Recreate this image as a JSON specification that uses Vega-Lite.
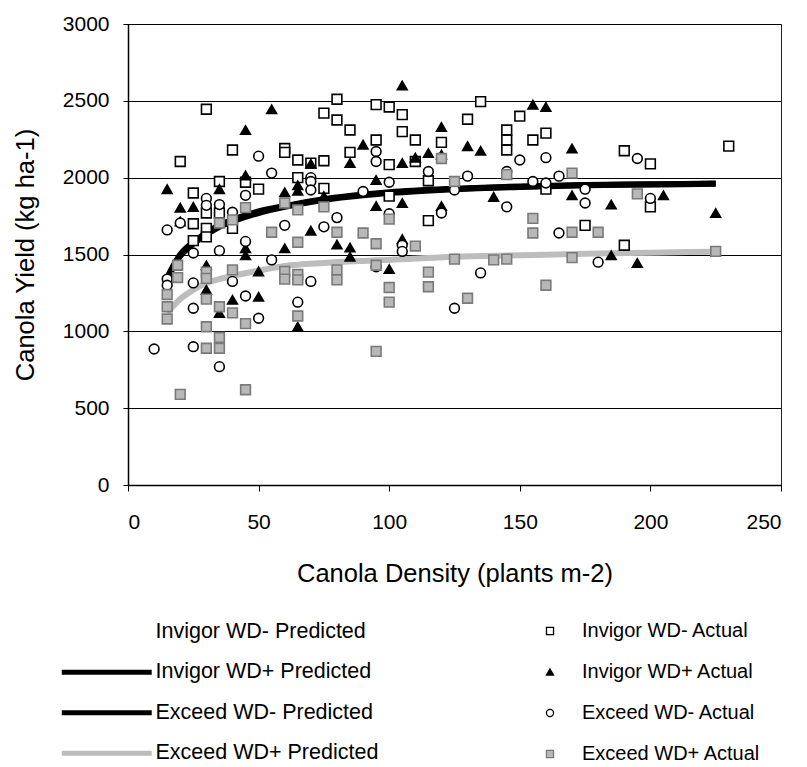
{
  "$schema": "https://vega.github.io/schema/vega-lite/v6.json",
  "width": 653,
  "height": 461,
  "autosize": {"type": "pad"},
  "padding": {"left": 13, "top": 13, "right": 0, "bottom": 0},
  "background": "white",
  "config": {
    "font": "Liberation Sans",
    "view": {"stroke": "#222", "strokeWidth": 1},
    "axis": {
      "labelFont": "Liberation Sans", "labelFontSize": 21, "labelColor": "black",
      "titleFont": "Liberation Sans", "titleFontSize": 25.5, "titleFontWeight": "normal", "titleColor": "black",
      "domainColor": "black", "tickColor": "black", "gridColor": "black", "gridOpacity": 1
    },
    "legend": {
      "labelFont": "Liberation Sans", "labelFontSize": 21, "labelColor": "black", "padding": 0, "labelLimit": 0
    }
  },
  "datasets": {
    "curves": [
      {"density": 15, "yield": 1350, "Line": "Invigor WD+ Predicted"},
      {"density": 20, "yield": 1500, "Line": "Invigor WD+ Predicted"},
      {"density": 25, "yield": 1580, "Line": "Invigor WD+ Predicted"},
      {"density": 30, "yield": 1640, "Line": "Invigor WD+ Predicted"},
      {"density": 35, "yield": 1690, "Line": "Invigor WD+ Predicted"},
      {"density": 40, "yield": 1725, "Line": "Invigor WD+ Predicted"},
      {"density": 50, "yield": 1780, "Line": "Invigor WD+ Predicted"},
      {"density": 60, "yield": 1815, "Line": "Invigor WD+ Predicted"},
      {"density": 75, "yield": 1860, "Line": "Invigor WD+ Predicted"},
      {"density": 90, "yield": 1890, "Line": "Invigor WD+ Predicted"},
      {"density": 100, "yield": 1905, "Line": "Invigor WD+ Predicted"},
      {"density": 125, "yield": 1928, "Line": "Invigor WD+ Predicted"},
      {"density": 150, "yield": 1943, "Line": "Invigor WD+ Predicted"},
      {"density": 175, "yield": 1952, "Line": "Invigor WD+ Predicted"},
      {"density": 200, "yield": 1957, "Line": "Invigor WD+ Predicted"},
      {"density": 225, "yield": 1962, "Line": "Invigor WD+ Predicted"},
      {"density": 15, "yield": 1340, "Line": "Exceed WD- Predicted"},
      {"density": 20, "yield": 1490, "Line": "Exceed WD- Predicted"},
      {"density": 25, "yield": 1570, "Line": "Exceed WD- Predicted"},
      {"density": 30, "yield": 1630, "Line": "Exceed WD- Predicted"},
      {"density": 35, "yield": 1680, "Line": "Exceed WD- Predicted"},
      {"density": 40, "yield": 1715, "Line": "Exceed WD- Predicted"},
      {"density": 50, "yield": 1770, "Line": "Exceed WD- Predicted"},
      {"density": 60, "yield": 1810, "Line": "Exceed WD- Predicted"},
      {"density": 75, "yield": 1855, "Line": "Exceed WD- Predicted"},
      {"density": 90, "yield": 1885, "Line": "Exceed WD- Predicted"},
      {"density": 100, "yield": 1900, "Line": "Exceed WD- Predicted"},
      {"density": 125, "yield": 1925, "Line": "Exceed WD- Predicted"},
      {"density": 150, "yield": 1940, "Line": "Exceed WD- Predicted"},
      {"density": 175, "yield": 1950, "Line": "Exceed WD- Predicted"},
      {"density": 200, "yield": 1955, "Line": "Exceed WD- Predicted"},
      {"density": 225, "yield": 1960, "Line": "Exceed WD- Predicted"},
      {"density": 15, "yield": 1120, "Line": "Exceed WD+ Predicted"},
      {"density": 20, "yield": 1210, "Line": "Exceed WD+ Predicted"},
      {"density": 25, "yield": 1270, "Line": "Exceed WD+ Predicted"},
      {"density": 30, "yield": 1315, "Line": "Exceed WD+ Predicted"},
      {"density": 35, "yield": 1340, "Line": "Exceed WD+ Predicted"},
      {"density": 40, "yield": 1360, "Line": "Exceed WD+ Predicted"},
      {"density": 50, "yield": 1395, "Line": "Exceed WD+ Predicted"},
      {"density": 60, "yield": 1425, "Line": "Exceed WD+ Predicted"},
      {"density": 75, "yield": 1445, "Line": "Exceed WD+ Predicted"},
      {"density": 90, "yield": 1458, "Line": "Exceed WD+ Predicted"},
      {"density": 100, "yield": 1465, "Line": "Exceed WD+ Predicted"},
      {"density": 125, "yield": 1485, "Line": "Exceed WD+ Predicted"},
      {"density": 150, "yield": 1495, "Line": "Exceed WD+ Predicted"},
      {"density": 175, "yield": 1505, "Line": "Exceed WD+ Predicted"},
      {"density": 200, "yield": 1512, "Line": "Exceed WD+ Predicted"},
      {"density": 225, "yield": 1518, "Line": "Exceed WD+ Predicted"}
    ],
    "obs": [
      {"density": 20, "yield": 2105, "Series": "Invigor WD- Actual"},
      {"density": 30, "yield": 2445, "Series": "Invigor WD- Actual"},
      {"density": 40, "yield": 2180, "Series": "Invigor WD- Actual"},
      {"density": 35, "yield": 1975, "Series": "Invigor WD- Actual"},
      {"density": 25, "yield": 1900, "Series": "Invigor WD- Actual"},
      {"density": 50, "yield": 1925, "Series": "Invigor WD- Actual"},
      {"density": 45, "yield": 1970, "Series": "Invigor WD- Actual"},
      {"density": 30, "yield": 1770, "Series": "Invigor WD- Actual"},
      {"density": 35, "yield": 1770, "Series": "Invigor WD- Actual"},
      {"density": 25, "yield": 1700, "Series": "Invigor WD- Actual"},
      {"density": 30, "yield": 1670, "Series": "Invigor WD- Actual"},
      {"density": 25, "yield": 1590, "Series": "Invigor WD- Actual"},
      {"density": 30, "yield": 1615, "Series": "Invigor WD- Actual"},
      {"density": 40, "yield": 1670, "Series": "Invigor WD- Actual"},
      {"density": 60, "yield": 2190, "Series": "Invigor WD- Actual"},
      {"density": 60, "yield": 2165, "Series": "Invigor WD- Actual"},
      {"density": 65, "yield": 2115, "Series": "Invigor WD- Actual"},
      {"density": 70, "yield": 2095, "Series": "Invigor WD- Actual"},
      {"density": 75, "yield": 2110, "Series": "Invigor WD- Actual"},
      {"density": 65, "yield": 2000, "Series": "Invigor WD- Actual"},
      {"density": 75, "yield": 1930, "Series": "Invigor WD- Actual"},
      {"density": 75, "yield": 2420, "Series": "Invigor WD- Actual"},
      {"density": 80, "yield": 2510, "Series": "Invigor WD- Actual"},
      {"density": 80, "yield": 2375, "Series": "Invigor WD- Actual"},
      {"density": 85, "yield": 2310, "Series": "Invigor WD- Actual"},
      {"density": 85, "yield": 2165, "Series": "Invigor WD- Actual"},
      {"density": 95, "yield": 2245, "Series": "Invigor WD- Actual"},
      {"density": 95, "yield": 2475, "Series": "Invigor WD- Actual"},
      {"density": 100, "yield": 2460, "Series": "Invigor WD- Actual"},
      {"density": 100, "yield": 2085, "Series": "Invigor WD- Actual"},
      {"density": 100, "yield": 1880, "Series": "Invigor WD- Actual"},
      {"density": 105, "yield": 2410, "Series": "Invigor WD- Actual"},
      {"density": 105, "yield": 2300, "Series": "Invigor WD- Actual"},
      {"density": 110, "yield": 2245, "Series": "Invigor WD- Actual"},
      {"density": 110, "yield": 2105, "Series": "Invigor WD- Actual"},
      {"density": 115, "yield": 1980, "Series": "Invigor WD- Actual"},
      {"density": 115, "yield": 1720, "Series": "Invigor WD- Actual"},
      {"density": 120, "yield": 2230, "Series": "Invigor WD- Actual"},
      {"density": 130, "yield": 2380, "Series": "Invigor WD- Actual"},
      {"density": 135, "yield": 2495, "Series": "Invigor WD- Actual"},
      {"density": 145, "yield": 2310, "Series": "Invigor WD- Actual"},
      {"density": 145, "yield": 2245, "Series": "Invigor WD- Actual"},
      {"density": 145, "yield": 2180, "Series": "Invigor WD- Actual"},
      {"density": 150, "yield": 2400, "Series": "Invigor WD- Actual"},
      {"density": 155, "yield": 2245, "Series": "Invigor WD- Actual"},
      {"density": 160, "yield": 2290, "Series": "Invigor WD- Actual"},
      {"density": 160, "yield": 1925, "Series": "Invigor WD- Actual"},
      {"density": 175, "yield": 1690, "Series": "Invigor WD- Actual"},
      {"density": 190, "yield": 2175, "Series": "Invigor WD- Actual"},
      {"density": 190, "yield": 1560, "Series": "Invigor WD- Actual"},
      {"density": 200, "yield": 2090, "Series": "Invigor WD- Actual"},
      {"density": 200, "yield": 1810, "Series": "Invigor WD- Actual"},
      {"density": 230, "yield": 2205, "Series": "Invigor WD- Actual"},

      {"density": 15, "yield": 1925, "Series": "Invigor WD+ Actual"},
      {"density": 20, "yield": 1805, "Series": "Invigor WD+ Actual"},
      {"density": 25, "yield": 1810, "Series": "Invigor WD+ Actual"},
      {"density": 20, "yield": 1715, "Series": "Invigor WD+ Actual"},
      {"density": 35, "yield": 1925, "Series": "Invigor WD+ Actual"},
      {"density": 45, "yield": 2310, "Series": "Invigor WD+ Actual"},
      {"density": 45, "yield": 2015, "Series": "Invigor WD+ Actual"},
      {"density": 45, "yield": 1540, "Series": "Invigor WD+ Actual"},
      {"density": 45, "yield": 1495, "Series": "Invigor WD+ Actual"},
      {"density": 30, "yield": 1430, "Series": "Invigor WD+ Actual"},
      {"density": 30, "yield": 1270, "Series": "Invigor WD+ Actual"},
      {"density": 40, "yield": 1205, "Series": "Invigor WD+ Actual"},
      {"density": 35, "yield": 1120, "Series": "Invigor WD+ Actual"},
      {"density": 50, "yield": 1390, "Series": "Invigor WD+ Actual"},
      {"density": 50, "yield": 1225, "Series": "Invigor WD+ Actual"},
      {"density": 55, "yield": 2445, "Series": "Invigor WD+ Actual"},
      {"density": 60, "yield": 1905, "Series": "Invigor WD+ Actual"},
      {"density": 60, "yield": 1540, "Series": "Invigor WD+ Actual"},
      {"density": 65, "yield": 1950, "Series": "Invigor WD+ Actual"},
      {"density": 65, "yield": 1915, "Series": "Invigor WD+ Actual"},
      {"density": 65, "yield": 1030, "Series": "Invigor WD+ Actual"},
      {"density": 70, "yield": 2090, "Series": "Invigor WD+ Actual"},
      {"density": 70, "yield": 1655, "Series": "Invigor WD+ Actual"},
      {"density": 75, "yield": 1880, "Series": "Invigor WD+ Actual"},
      {"density": 80, "yield": 1565, "Series": "Invigor WD+ Actual"},
      {"density": 85, "yield": 2095, "Series": "Invigor WD+ Actual"},
      {"density": 85, "yield": 1545, "Series": "Invigor WD+ Actual"},
      {"density": 85, "yield": 1485, "Series": "Invigor WD+ Actual"},
      {"density": 90, "yield": 2215, "Series": "Invigor WD+ Actual"},
      {"density": 95, "yield": 1985, "Series": "Invigor WD+ Actual"},
      {"density": 95, "yield": 1815, "Series": "Invigor WD+ Actual"},
      {"density": 100, "yield": 1405, "Series": "Invigor WD+ Actual"},
      {"density": 105, "yield": 2600, "Series": "Invigor WD+ Actual"},
      {"density": 105, "yield": 2095, "Series": "Invigor WD+ Actual"},
      {"density": 105, "yield": 1835, "Series": "Invigor WD+ Actual"},
      {"density": 105, "yield": 1600, "Series": "Invigor WD+ Actual"},
      {"density": 110, "yield": 2130, "Series": "Invigor WD+ Actual"},
      {"density": 115, "yield": 2160, "Series": "Invigor WD+ Actual"},
      {"density": 120, "yield": 2330, "Series": "Invigor WD+ Actual"},
      {"density": 120, "yield": 2150, "Series": "Invigor WD+ Actual"},
      {"density": 120, "yield": 1815, "Series": "Invigor WD+ Actual"},
      {"density": 130, "yield": 2205, "Series": "Invigor WD+ Actual"},
      {"density": 135, "yield": 2175, "Series": "Invigor WD+ Actual"},
      {"density": 140, "yield": 1875, "Series": "Invigor WD+ Actual"},
      {"density": 155, "yield": 2475, "Series": "Invigor WD+ Actual"},
      {"density": 160, "yield": 2460, "Series": "Invigor WD+ Actual"},
      {"density": 170, "yield": 2190, "Series": "Invigor WD+ Actual"},
      {"density": 170, "yield": 1885, "Series": "Invigor WD+ Actual"},
      {"density": 185, "yield": 1825, "Series": "Invigor WD+ Actual"},
      {"density": 185, "yield": 1495, "Series": "Invigor WD+ Actual"},
      {"density": 195, "yield": 1445, "Series": "Invigor WD+ Actual"},
      {"density": 205, "yield": 1885, "Series": "Invigor WD+ Actual"},
      {"density": 225, "yield": 1770, "Series": "Invigor WD+ Actual"},

      {"density": 10, "yield": 885, "Series": "Exceed WD- Actual"},
      {"density": 15, "yield": 1660, "Series": "Exceed WD- Actual"},
      {"density": 15, "yield": 1340, "Series": "Exceed WD- Actual"},
      {"density": 15, "yield": 1300, "Series": "Exceed WD- Actual"},
      {"density": 20, "yield": 1705, "Series": "Exceed WD- Actual"},
      {"density": 25, "yield": 1510, "Series": "Exceed WD- Actual"},
      {"density": 25, "yield": 1315, "Series": "Exceed WD- Actual"},
      {"density": 25, "yield": 1150, "Series": "Exceed WD- Actual"},
      {"density": 25, "yield": 900, "Series": "Exceed WD- Actual"},
      {"density": 30, "yield": 1865, "Series": "Exceed WD- Actual"},
      {"density": 30, "yield": 1820, "Series": "Exceed WD- Actual"},
      {"density": 35, "yield": 1825, "Series": "Exceed WD- Actual"},
      {"density": 35, "yield": 1525, "Series": "Exceed WD- Actual"},
      {"density": 35, "yield": 770, "Series": "Exceed WD- Actual"},
      {"density": 40, "yield": 1775, "Series": "Exceed WD- Actual"},
      {"density": 40, "yield": 1325, "Series": "Exceed WD- Actual"},
      {"density": 45, "yield": 1885, "Series": "Exceed WD- Actual"},
      {"density": 45, "yield": 1585, "Series": "Exceed WD- Actual"},
      {"density": 45, "yield": 1230, "Series": "Exceed WD- Actual"},
      {"density": 50, "yield": 2140, "Series": "Exceed WD- Actual"},
      {"density": 50, "yield": 1085, "Series": "Exceed WD- Actual"},
      {"density": 55, "yield": 2030, "Series": "Exceed WD- Actual"},
      {"density": 55, "yield": 1465, "Series": "Exceed WD- Actual"},
      {"density": 60, "yield": 1690, "Series": "Exceed WD- Actual"},
      {"density": 65, "yield": 1190, "Series": "Exceed WD- Actual"},
      {"density": 70, "yield": 2000, "Series": "Exceed WD- Actual"},
      {"density": 70, "yield": 1975, "Series": "Exceed WD- Actual"},
      {"density": 70, "yield": 1920, "Series": "Exceed WD- Actual"},
      {"density": 70, "yield": 1325, "Series": "Exceed WD- Actual"},
      {"density": 75, "yield": 1680, "Series": "Exceed WD- Actual"},
      {"density": 80, "yield": 1740, "Series": "Exceed WD- Actual"},
      {"density": 90, "yield": 1910, "Series": "Exceed WD- Actual"},
      {"density": 95, "yield": 2170, "Series": "Exceed WD- Actual"},
      {"density": 95, "yield": 2105, "Series": "Exceed WD- Actual"},
      {"density": 95, "yield": 1420, "Series": "Exceed WD- Actual"},
      {"density": 100, "yield": 1970, "Series": "Exceed WD- Actual"},
      {"density": 100, "yield": 1765, "Series": "Exceed WD- Actual"},
      {"density": 105, "yield": 1560, "Series": "Exceed WD- Actual"},
      {"density": 105, "yield": 1520, "Series": "Exceed WD- Actual"},
      {"density": 115, "yield": 2040, "Series": "Exceed WD- Actual"},
      {"density": 120, "yield": 1770, "Series": "Exceed WD- Actual"},
      {"density": 125, "yield": 1920, "Series": "Exceed WD- Actual"},
      {"density": 125, "yield": 1150, "Series": "Exceed WD- Actual"},
      {"density": 130, "yield": 2010, "Series": "Exceed WD- Actual"},
      {"density": 135, "yield": 1380, "Series": "Exceed WD- Actual"},
      {"density": 145, "yield": 2040, "Series": "Exceed WD- Actual"},
      {"density": 145, "yield": 1810, "Series": "Exceed WD- Actual"},
      {"density": 150, "yield": 2115, "Series": "Exceed WD- Actual"},
      {"density": 155, "yield": 1975, "Series": "Exceed WD- Actual"},
      {"density": 160, "yield": 2130, "Series": "Exceed WD- Actual"},
      {"density": 160, "yield": 1965, "Series": "Exceed WD- Actual"},
      {"density": 165, "yield": 2010, "Series": "Exceed WD- Actual"},
      {"density": 165, "yield": 1640, "Series": "Exceed WD- Actual"},
      {"density": 175, "yield": 1925, "Series": "Exceed WD- Actual"},
      {"density": 175, "yield": 1835, "Series": "Exceed WD- Actual"},
      {"density": 180, "yield": 1450, "Series": "Exceed WD- Actual"},
      {"density": 195, "yield": 2125, "Series": "Exceed WD- Actual"},
      {"density": 200, "yield": 1865, "Series": "Exceed WD- Actual"},

      {"density": 15, "yield": 1240, "Series": "Exceed WD+ Actual"},
      {"density": 15, "yield": 1160, "Series": "Exceed WD+ Actual"},
      {"density": 15, "yield": 1080, "Series": "Exceed WD+ Actual"},
      {"density": 19, "yield": 1430, "Series": "Exceed WD+ Actual"},
      {"density": 19, "yield": 1350, "Series": "Exceed WD+ Actual"},
      {"density": 20, "yield": 590, "Series": "Exceed WD+ Actual"},
      {"density": 30, "yield": 1385, "Series": "Exceed WD+ Actual"},
      {"density": 30, "yield": 1345, "Series": "Exceed WD+ Actual"},
      {"density": 30, "yield": 1210, "Series": "Exceed WD+ Actual"},
      {"density": 30, "yield": 1030, "Series": "Exceed WD+ Actual"},
      {"density": 30, "yield": 890, "Series": "Exceed WD+ Actual"},
      {"density": 35, "yield": 1705, "Series": "Exceed WD+ Actual"},
      {"density": 35, "yield": 1160, "Series": "Exceed WD+ Actual"},
      {"density": 35, "yield": 960, "Series": "Exceed WD+ Actual"},
      {"density": 35, "yield": 890, "Series": "Exceed WD+ Actual"},
      {"density": 40, "yield": 1725, "Series": "Exceed WD+ Actual"},
      {"density": 40, "yield": 1400, "Series": "Exceed WD+ Actual"},
      {"density": 40, "yield": 1120, "Series": "Exceed WD+ Actual"},
      {"density": 45, "yield": 1805, "Series": "Exceed WD+ Actual"},
      {"density": 45, "yield": 1050, "Series": "Exceed WD+ Actual"},
      {"density": 45, "yield": 620, "Series": "Exceed WD+ Actual"},
      {"density": 55, "yield": 1645, "Series": "Exceed WD+ Actual"},
      {"density": 60, "yield": 1835, "Series": "Exceed WD+ Actual"},
      {"density": 60, "yield": 1390, "Series": "Exceed WD+ Actual"},
      {"density": 60, "yield": 1340, "Series": "Exceed WD+ Actual"},
      {"density": 65, "yield": 1790, "Series": "Exceed WD+ Actual"},
      {"density": 65, "yield": 1580, "Series": "Exceed WD+ Actual"},
      {"density": 65, "yield": 1370, "Series": "Exceed WD+ Actual"},
      {"density": 65, "yield": 1335, "Series": "Exceed WD+ Actual"},
      {"density": 65, "yield": 1100, "Series": "Exceed WD+ Actual"},
      {"density": 75, "yield": 1810, "Series": "Exceed WD+ Actual"},
      {"density": 80, "yield": 1645, "Series": "Exceed WD+ Actual"},
      {"density": 80, "yield": 1400, "Series": "Exceed WD+ Actual"},
      {"density": 80, "yield": 1335, "Series": "Exceed WD+ Actual"},
      {"density": 90, "yield": 1640, "Series": "Exceed WD+ Actual"},
      {"density": 95, "yield": 1570, "Series": "Exceed WD+ Actual"},
      {"density": 95, "yield": 1430, "Series": "Exceed WD+ Actual"},
      {"density": 95, "yield": 870, "Series": "Exceed WD+ Actual"},
      {"density": 100, "yield": 1730, "Series": "Exceed WD+ Actual"},
      {"density": 100, "yield": 1285, "Series": "Exceed WD+ Actual"},
      {"density": 100, "yield": 1190, "Series": "Exceed WD+ Actual"},
      {"density": 110, "yield": 1555, "Series": "Exceed WD+ Actual"},
      {"density": 115, "yield": 1385, "Series": "Exceed WD+ Actual"},
      {"density": 115, "yield": 1290, "Series": "Exceed WD+ Actual"},
      {"density": 120, "yield": 2125, "Series": "Exceed WD+ Actual"},
      {"density": 125, "yield": 1975, "Series": "Exceed WD+ Actual"},
      {"density": 125, "yield": 1470, "Series": "Exceed WD+ Actual"},
      {"density": 130, "yield": 1215, "Series": "Exceed WD+ Actual"},
      {"density": 140, "yield": 1465, "Series": "Exceed WD+ Actual"},
      {"density": 145, "yield": 2020, "Series": "Exceed WD+ Actual"},
      {"density": 145, "yield": 1470, "Series": "Exceed WD+ Actual"},
      {"density": 155, "yield": 1735, "Series": "Exceed WD+ Actual"},
      {"density": 155, "yield": 1640, "Series": "Exceed WD+ Actual"},
      {"density": 160, "yield": 1300, "Series": "Exceed WD+ Actual"},
      {"density": 170, "yield": 2030, "Series": "Exceed WD+ Actual"},
      {"density": 170, "yield": 1645, "Series": "Exceed WD+ Actual"},
      {"density": 170, "yield": 1480, "Series": "Exceed WD+ Actual"},
      {"density": 180, "yield": 1645, "Series": "Exceed WD+ Actual"},
      {"density": 195, "yield": 1895, "Series": "Exceed WD+ Actual"},
      {"density": 225, "yield": 1520, "Series": "Exceed WD+ Actual"}
    ]
  },
  "encoding": {
    "x": {
      "field": "density", "type": "quantitative",
      "scale": {"domain": [0, 250], "nice": false, "zero": true},
      "axis": {
        "title": "Canola Density (plants m-2)", "values": [0, 50, 100, 150, 200, 250],
        "grid": false, "tickSize": 6, "labelPadding": 20, "titlePadding": 29, "domainWidth": 1.5
      }
    },
    "y": {
      "field": "yield", "type": "quantitative",
      "scale": {"domain": [0, 3000], "nice": false},
      "axis": {
        "title": "Canola Yield (kg ha-1)", "values": [0, 500, 1000, 1500, 2000, 2500, 3000], "format": "d",
        "grid": true, "gridWidth": 1.2, "tickSize": 5, "labelPadding": 14, "titlePadding": 24, "domainWidth": 1.5
      }
    }
  },
  "layer": [
    {
      "data": {"name": "curves"},
      "mark": {"type": "line", "strokeWidth": 6, "interpolate": "monotone"},
      "encoding": {
        "color": {
          "field": "Line", "type": "nominal",
          "scale": {
            "domain": ["Invigor WD- Predicted", "Invigor WD+ Predicted", "Exceed WD- Predicted", "Exceed WD+ Predicted"],
            "range": ["white", "black", "black", "#bdbdbd"]
          },
          "legend": {
            "title": null, "orient": "none", "legendX": -32, "legendY": 597,
            "symbolType": "M-9,0H9", "symbolSize": 100, "symbolStrokeWidth": 5,
            "labelOffset": 38, "rowPadding": 17.5, "labelFontSize": 21.5
          }
        }
      }
    },
    {
      "data": {"name": "obs"},
      "mark": {"type": "point", "filled": true, "size": 95, "strokeWidth": 1.6, "opacity": 1},
      "encoding": {
        "shape": {
          "field": "Series", "type": "nominal",
          "scale": {
            "domain": ["Invigor WD- Actual", "Invigor WD+ Actual", "Exceed WD- Actual", "Exceed WD+ Actual"],
            "range": ["square", "triangle-up", "circle", "square"]
          },
          "legend": {
            "title": null, "orient": "none", "legendX": 412, "legendY": 597,
            "symbolSize": 50, "symbolStrokeWidth": 1.3, "labelOffset": 22, "rowPadding": 21, "labelFontSize": 20
          }
        },
        "fill": {
          "field": "Series", "type": "nominal",
          "scale": {
            "domain": ["Invigor WD- Actual", "Invigor WD+ Actual", "Exceed WD- Actual", "Exceed WD+ Actual"],
            "range": ["white", "black", "white", "#b8b8b8"]
          },
          "legend": {
            "title": null, "orient": "none", "legendX": 412, "legendY": 597,
            "symbolSize": 50, "symbolStrokeWidth": 1.3, "labelOffset": 22, "rowPadding": 21, "labelFontSize": 20
          }
        },
        "stroke": {
          "field": "Series", "type": "nominal",
          "scale": {
            "domain": ["Invigor WD- Actual", "Invigor WD+ Actual", "Exceed WD- Actual", "Exceed WD+ Actual"],
            "range": ["black", "black", "black", "#7a7a7a"]
          },
          "legend": {
            "title": null, "orient": "none", "legendX": 412, "legendY": 597,
            "symbolSize": 50, "symbolStrokeWidth": 1.3, "labelOffset": 22, "rowPadding": 21, "labelFontSize": 20
          }
        }
      }
    }
  ]
}
